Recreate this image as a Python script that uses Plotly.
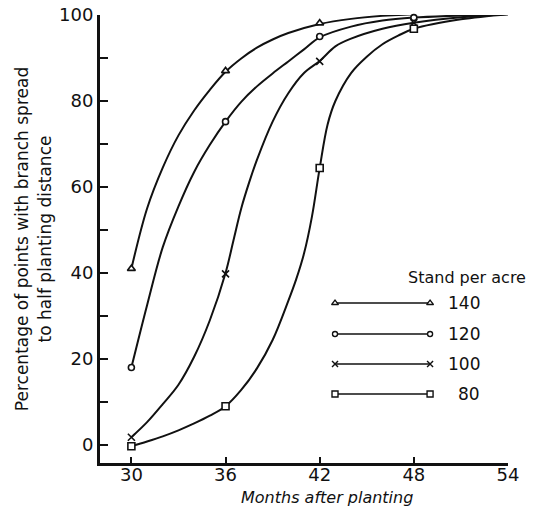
import plotly.graph_objects as go

# ---------------- data ----------------
months = [30, 36, 42, 48]
stands = ["140", "120", "100", "80"]

# observed points (markers)
pts_140 = [41, 87, 98.1, 100.3]
pts_120 = [18, 75.2, 95, 99.4]
pts_100 = [1.8, 39.8, 89.2, 98.2]
pts_80 = [-0.3, 9, 64.4, 96.8]

# fitted curves
curve_140_x = [30, 31, 32, 33, 34, 35, 36, 37, 38, 39, 40, 42, 44, 46, 48, 51, 54]
curve_140_y = [41, 55, 64.5, 72, 77.8, 82.6, 86.8, 89.9, 92.4, 94.3, 95.8, 97.9, 99.1, 99.8, 100.2, 100.3, 100.4]

curve_120_x = [30, 31, 32, 33, 34, 35, 36, 37, 38, 39, 40, 41, 42, 44, 46, 48, 51, 54]
curve_120_y = [18, 32.5, 46, 55.5, 63.5, 69.8, 75.2, 79.8, 83.4, 86.4, 89.2, 92, 94.8, 97.3, 98.7, 99.4, 99.9, 100.3]

curve_100_x = [30, 31, 32, 33, 34, 35, 36, 36.5, 37, 37.5, 38, 39, 40, 41, 42, 43, 44, 46, 48, 51, 54]
curve_100_y = [1.8, 5.3, 9.5, 14, 20.5, 29, 40, 47.5, 55, 61, 66.3, 75.2, 81.8, 86.5, 89.3, 92.7, 94.5, 96.8, 98.2, 99.5, 100.2]

curve_80_x = [30, 31, 32, 33, 34, 35, 36, 37, 38, 39, 40, 40.5, 41, 41.5, 42, 42.5, 43, 44, 45, 46, 47, 48, 51, 54]
curve_80_y = [-0.3, 0.8, 2, 3.4, 5, 6.8, 9, 12.8, 17.8, 24.4, 33.5, 38.5, 44.5, 53, 64.4, 74.5, 80, 86.5, 90.3, 93.2, 95.2, 96.8, 99, 100.2]

x_ticks = [30, 36, 42, 48, 54]
y_ticks = [0, 20, 40, 60, 80, 100]
y_minor = [10, 30, 50, 70, 90]

# ---------------- styling ----------------
FONT = "DejaVu Sans"
INK = "#111111"
symbols = ["triangle-up", "circle", "x-thin", "square"]
sizes = [7, 6, 7, 7]

curves = [(curve_140_x, curve_140_y), (curve_120_x, curve_120_y),
          (curve_100_x, curve_100_y), (curve_80_x, curve_80_y)]
points = [pts_140, pts_120, pts_100, pts_80]

fig = go.Figure()

for (cx, cy) in curves:
    fig.add_trace(go.Scatter(x=cx, y=cy, mode="lines",
                             line=dict(color=INK, width=2, shape="spline", smoothing=1),
                             cliponaxis=False, showlegend=False, hoverinfo="skip"))

for pts, sym, sz in zip(points, symbols, sizes):
    is_x = sym == "x-thin"
    fig.add_trace(go.Scatter(x=months, y=pts, mode="markers",
                             marker=dict(symbol=sym, size=sz,
                                         color=INK if is_x else "white",
                                         line=dict(color=INK, width=1.6)),
                             cliponaxis=False, showlegend=False))

# ---------------- manual legend (layout positions) ----------------
leg_rows = [0.357, 0.288, 0.221, 0.154]
leg_x0, leg_x1 = 0.576, 0.809
for row, sym, sz, lab in zip(leg_rows, symbols, sizes, stands):
    is_x = sym == "x-thin"
    fig.add_trace(go.Scatter(x=[leg_x0, leg_x1], y=[row, row], mode="lines+markers",
                             xaxis="x2", yaxis="y2",
                             line=dict(color=INK, width=1.6),
                             marker=dict(symbol=sym, size=sz - 1,
                                         color=INK if is_x else "white",
                                         line=dict(color=INK, width=1.4)),
                             cliponaxis=False, showlegend=False, hoverinfo="skip"))
    fig.add_annotation(x=0.936, y=row, xref="x2", yref="y2", text=lab,
                       showarrow=False, xanchor="right", yanchor="middle",
                       font=dict(family=FONT, size=17, color=INK))

fig.add_annotation(x=0.90, y=0.415, xref="x2", yref="y2", text="Stand per acre",
                   showarrow=False, xanchor="center", yanchor="middle",
                   font=dict(family=FONT, size=16, color=INK))

# x-axis title, set slightly right of centre as in the original
fig.add_annotation(x=0.556, y=-0.076, xref="paper", yref="paper",
                   text="<i>Months after planting</i>", showarrow=False,
                   xanchor="center", yanchor="middle",
                   font=dict(family=FONT, size=16, color=INK))

fig.update_layout(
    width=543, height=515,
    margin=dict(l=100, r=35, t=15, b=52),
    paper_bgcolor="white", plot_bgcolor="white",
    font=dict(family=FONT, color=INK),
    xaxis=dict(range=[28, 54], tickvals=x_ticks, ticks="inside", ticklen=6,
               tickwidth=1.5, tickcolor=INK, showgrid=False, zeroline=False,
               showline=True, linecolor=INK, linewidth=2.5, automargin=False,
               ticklabelstandoff=-6, ticklabeloverflow="allow",
               tickfont=dict(family=FONT, size=18, color=INK)),
    yaxis=dict(range=[-4.2, 100], tickvals=y_ticks, ticks="inside", ticklen=8,
               tickwidth=1.5, tickcolor=INK, showgrid=False, zeroline=False,
               showline=True, linecolor=INK, linewidth=3, automargin=False,
               ticklabeloverflow="allow",
               minor=dict(tickvals=y_minor, ticks="inside", ticklen=8,
                          tickwidth=1.5, tickcolor=INK),
               tickfont=dict(family=FONT, size=18, color=INK),
               title=dict(text="Percentage of points with branch spread<br>to half planting distance",
                          standoff=4, font=dict(family=FONT, size=17, color=INK))),
    xaxis2=dict(domain=[0, 1], range=[0, 1], overlaying="x", visible=False),
    yaxis2=dict(domain=[0, 1], range=[0, 1], overlaying="y", visible=False),
)

# remove the browser's default 8px page margin so the figure fills the window
fig.write_html("out.html", config={"displayModeBar": False},
               post_script="document.body.style.margin='0px';")
